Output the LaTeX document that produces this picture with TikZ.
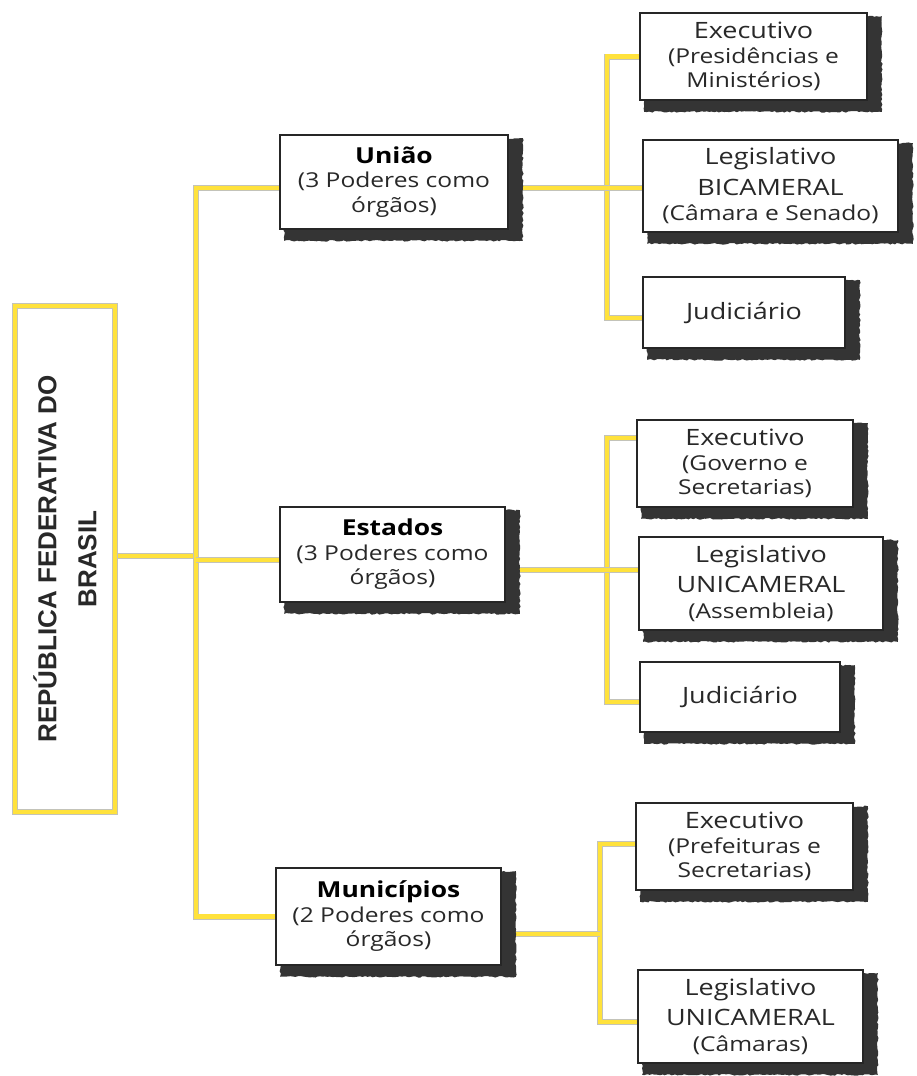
\documentclass[tikz,border=0pt]{standalone}
\usepackage{fontspec}
\usetikzlibrary{calc,decorations.pathmorphing}
\newfontfamily\bodyf[FakeStretch=1.2]{Open Sans}
\newfontfamily\rootf{Liberation Sans}
\definecolor{yellowc}{RGB}{255,226,60}
\definecolor{edgec}{RGB}{195,195,185}
\definecolor{boxc}{RGB}{38,38,38}
\definecolor{shadowc}{RGB}{52,52,52}
\definecolor{textc}{RGB}{40,40,40}
\newcommand\ttl[1]{{\fontsize{22}{25}\selectfont\bfseries\color{black}#1}}
\newcommand\mn[1]{{\fontsize{22.5}{25}\selectfont #1}}
\pgfdeclarelayer{connl}
\pgfdeclarelayer{shadl}
\pgfsetlayers{connl,shadl,main}
\begin{document}
\begin{tikzpicture}[x=1pt,y=-1pt,
  box/.style={draw=boxc, line width=1.6pt, fill=white, inner sep=0pt, align=center, text=textc, font=\bodyf\fontsize{20.5}{24.5}\selectfont},
  conn/.style={draw=edgec, line width=0.7pt, double=yellowc, double distance=4.6pt},
  sh/.style={fill=shadowc, decorate, decoration={random steps, segment length=2.5pt, amplitude=0.8pt}}]
\pgfmathsetseed{7}
\useasboundingbox (0,0) rectangle (917,1076);

% root
\node[draw=edgec, line width=0.7pt, double=yellowc, double distance=4.6pt, fill=white,
      rotate=90, minimum width=506pt, minimum height=100pt, inner sep=0pt, align=center,
      text=textc, font=\rootf\bfseries\fontsize{26}{40}\selectfont] (root) at (65,559)
      {REPÚBLICA FEDERATIVA DO\\BRASIL};

% level 1
\node[box, minimum width=228pt, minimum height=94pt] (uniao) at (394,182) {\ttl{União}\\(3 Poderes como\\órgãos)};
\node[box, minimum width=225pt, minimum height=95pt] (estados) at (392.5,554.5) {\ttl{Estados}\\(3 Poderes como\\órgãos)};
\node[box, minimum width=225pt, minimum height=97pt] (mun) at (388.5,916.5) {\ttl{Municípios}\\(2 Poderes como\\órgãos)};

% level 2
\node[box, minimum width=227pt, minimum height=87pt] (ex1) at (753.5,56.5) {\mn{Executivo}\\(Presidências e\\Ministérios)};
\node[box, minimum width=255pt, minimum height=92pt] (le1) at (770.5,186) {\mn{Legislativo}\\[6pt]\mn{BICAMERAL}\\[1pt](Câmara e Senado)};
\node[box, minimum width=202pt, minimum height=71pt] (ju1) at (744,312.5) {\mn{Judiciário}};

\node[box, minimum width=216pt, minimum height=87pt] (ex2) at (745,463.5) {\mn{Executivo}\\(Governo e\\Secretarias)};
\node[box, minimum width=244pt, minimum height=93pt] (le2) at (761,583.5) {\mn{Legislativo}\\[6pt]\mn{UNICAMERAL}\\[1pt](Assembleia)};
\node[box, minimum width=200pt, minimum height=70pt] (ju2) at (740,697) {\mn{Judiciário}};

\node[box, minimum width=217pt, minimum height=87pt] (ex3) at (744.5,846.5) {\mn{Executivo}\\(Prefeituras e\\Secretarias)};
\node[box, minimum width=225pt, minimum height=93pt] (le3) at (750.5,1016.5) {\mn{Legislativo}\\[6pt]\mn{UNICAMERAL}\\[1pt](Câmaras)};

% junction coordinates
\coordinate (jR) at (196,556);
\coordinate (jE0) at (196,560);
\coordinate (jU) at (607,188);
\coordinate (jE) at (607,570);
\coordinate (jM) at (600,934);

\begin{pgfonlayer}{shadl}
\foreach \n in {uniao,estados,mun,ex1,le1,ju1,ex2,le2,ju2,ex3,le3}
  \fill[sh] ($(\n.north west)+(5,4)$) rectangle ($(\n.south east)+(14,11)$);
\end{pgfonlayer}

\begin{pgfonlayer}{connl}
\draw[conn] (root.south |- jR) -- (jR);
\draw[conn] ([yshift=-6pt]uniao.west) -| (jR) |- (mun.west);
\draw[conn] (estados.west |- jE0) -- (jE0);
\draw[conn] (ex1.west) -| (jU) |- ([yshift=-5.5pt]ju1.west);
\draw[conn] (uniao.east |- jU) -- (le1.west |- jU);
\draw[conn] ([yshift=25.5pt]ex2.west) -| (jE) |- ([yshift=-5pt]ju2.west);
\draw[conn] (estados.east |- jE) -- (le2.west |- jE);
\draw[conn] ([yshift=2.5pt]ex3.west) -| (jM) |- ([yshift=-5.5pt]le3.west);
\draw[conn] (mun.east |- jM) -- (jM);
\end{pgfonlayer}
\end{tikzpicture}
\end{document}
